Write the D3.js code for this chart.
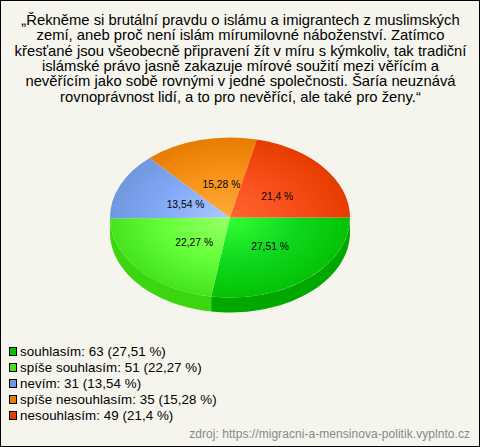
<!DOCTYPE html>
<html><head><meta charset="utf-8">
<script src="https://cdn.jsdelivr.net/npm/d3@7/dist/d3.min.js"></script>
<style>html,body{margin:0;padding:0;background:#fff}svg{display:block}text{font-family:"Liberation Sans",Arial,sans-serif}</style>
</head><body><div id="c"></div>
<script>
const categories=["souhlasím","spíše souhlasím","nevím","spíše nesouhlasím","nesouhlasím"];
const counts=[63,51,31,35,49];
const percents=["27,51","22,27","13,54","15,28","21,4"];
const centerColors=["#33ff33","#99ff66","#aaccff","#ffaa33","#ff6633"];
const midColors=["#0fd81f","#66ff3a","#85aaf8","#f8921a","#f84d18"];
const edgeColors=["#05c205","#44e41c","#6f98e0","#e67d00","#e63c00"];
const sideColors=["#00a800","#3cd60f","#6f98e0","#e67d00","#e63c00"];
const titleLines=["„Řekněme si brutální pravdu o islámu a imigrantech z muslimských","zemí, aneb proč není islám mírumilovné náboženství. Zatímco","křesťané jsou všeobecně připravení žít v míru s kýmkoliv, tak tradiční","islámské právo jasně zakazuje mírové soužití mezi věřícím a","nevěřícím jako sobě rovnými v jedné společnosti. Šaría neuznává","rovnoprávnost lidí, a to pro nevěřící, ale také pro ženy.“"];
const source="zdroj: https://migracni-a-mensinova-politik.vyplnto.cz";

const W=480,H=447,cx=230,cy=217.5,rx=120,ry=80,depth=15;
const svg=d3.select("#c").append("svg").attr("width",W).attr("height",H);
svg.append("rect").attr("x",.5).attr("y",.5).attr("width",W-1).attr("height",H-1).attr("fill","#f5f5ee").attr("stroke","#000");

svg.append("g").selectAll("text").data(titleLines).join("text")
  .attr("x",240.5).attr("y",(d,i)=>25+i*15.3).attr("text-anchor","middle").attr("font-size",14.8).attr("fill","#000").text(d=>d);

const pie=d3.pie().sort(null).startAngle(Math.PI/2).endAngle(Math.PI*2.5)(counts);
const arc=d3.arc().innerRadius(0).outerRadius(1);
const defs=svg.append("defs");
pie.forEach((p,i)=>{
  const g=defs.append("radialGradient").attr("id","g"+i).attr("gradientUnits","userSpaceOnUse").attr("cx",0).attr("cy",0).attr("r",1);
  g.append("stop").attr("offset","0%").attr("stop-color",centerColors[i]);
  g.append("stop").attr("offset","55%").attr("stop-color",midColors[i]);
  g.append("stop").attr("offset","100%").attr("stop-color",edgeColors[i]);
});
const px=a=>rx*Math.sin(a), py=a=>-ry*Math.cos(a);
const side=svg.append("g").attr("transform",`translate(${cx},${cy})`);
pie.forEach((p,i)=>{
  const a0=Math.max(p.startAngle,Math.PI/2), a1=Math.min(p.endAngle,Math.PI*1.5);
  if(a1<=a0) return;
  const as=d3.range(0,41).map(k=>a0+(a1-a0)*k/40);
  const top=as.map(a=>[px(a),py(a)]);
  const bot=as.slice().reverse().map(a=>[px(a),py(a)+depth]);
  side.append("path").attr("d",d3.line()(top.concat(bot))+"Z").attr("fill",sideColors[i]);
});
const face=svg.append("g").attr("transform",`translate(${cx},${cy}) scale(${rx},${ry})`);
face.selectAll("path").data(pie).join("path").attr("d",arc).attr("fill",(d,i)=>`url(#g${i})`);

const lab=svg.append("g").attr("transform",`translate(${cx+5},${cy+1})`);
lab.selectAll("text").data(pie).join("text")
  .attr("x",d=>px((d.startAngle+d.endAngle)/2)*0.45)
  .attr("y",d=>py((d.startAngle+d.endAngle)/2)*0.45+4)
  .attr("text-anchor","middle").attr("font-size",10.3).attr("fill","#000")
  .text((d,i)=>percents[i]+" %");

const leg=svg.append("g").selectAll("g").data(categories).join("g")
  .attr("transform",(d,i)=>`translate(0,${351+i*16})`);
leg.append("rect").attr("x",9.5).attr("y",-3.5).attr("width",7).attr("height",8).attr("stroke","#000").attr("fill",(d,i)=>edgeColors[i]);
leg.append("text").attr("x",20).attr("y",5).attr("font-size",13.33).attr("fill","#000").attr("letter-spacing",.06)
  .text((d,i)=>`${d}: ${counts[i]} (${percents[i]} %)`);

svg.append("text").attr("x",470).attr("y",438).attr("text-anchor","end").attr("font-size",12).attr("fill","#888").attr("letter-spacing",.05).text(source);
</script></body></html>
